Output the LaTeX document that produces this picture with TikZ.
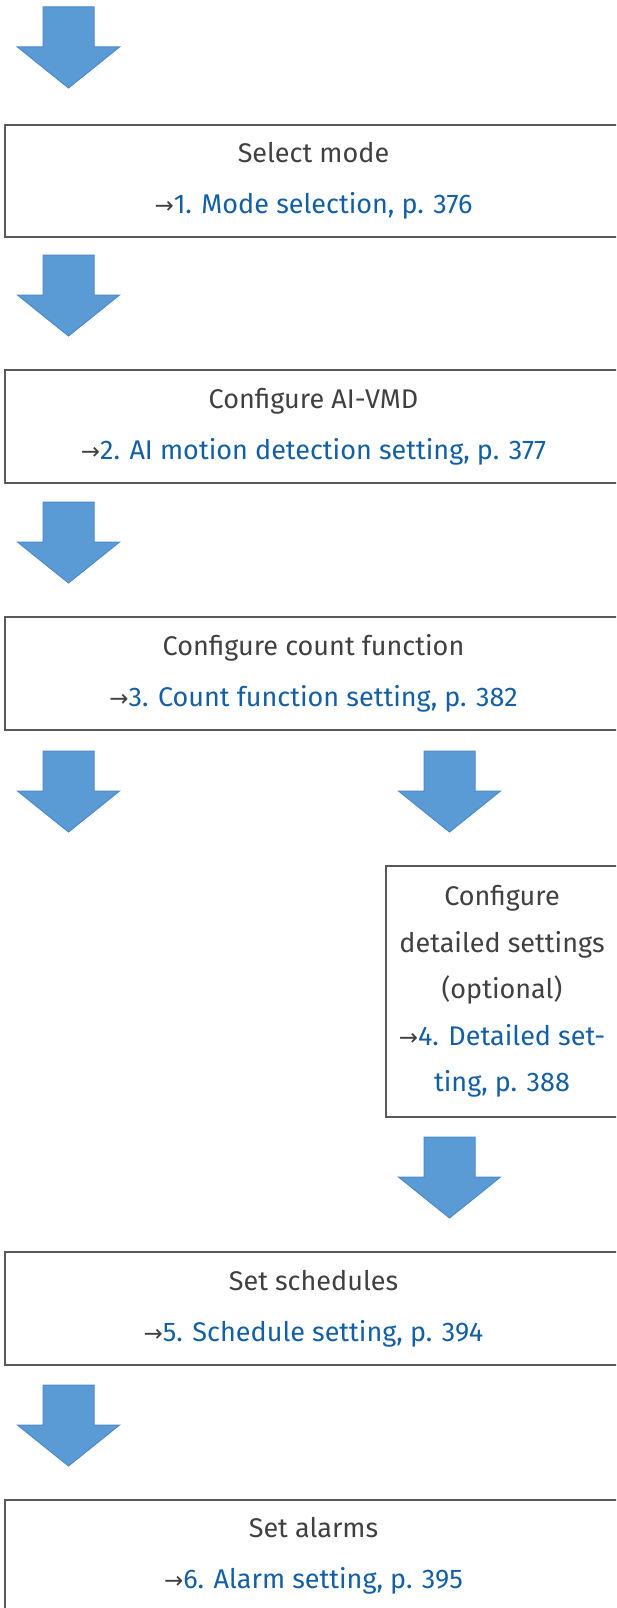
\documentclass[tikz,border=0pt]{standalone}
\usepackage{fontspec}
\setmainfont{Fira Sans}
\newfontfamily\arrfont{DejaVu Sans}
\definecolor{txtgray}{HTML}{404040}
\definecolor{linkblue}{HTML}{135FA5}
\definecolor{boxline}{HTML}{595959}
\definecolor{arrfill}{HTML}{5B9BD5}
\definecolor{arredge}{HTML}{4D8ACB}
\newcommand{\lk}[1]{{\color{txtgray}\arrfont\scalebox{0.85}{→}}\textcolor{linkblue}{#1}}
\newcommand{\blockarr}[2]{%
  \fill[arrfill,draw=arredge,line width=1pt,line join=miter]
    (#1-25.5,#2) -- (#1+25.5,#2) -- (#1+25.5,#2+40) -- (#1+51,#2+40)
    -- (#1,#2+81) -- (#1-51,#2+40) -- (#1-25.5,#2+40) -- cycle;}
\begin{document}
\begin{tikzpicture}[x=1pt,y=-1pt,
  box/.style={draw=boxline,line width=1.5pt,fill=none,align=center,
    text=txtgray,font=\fontsize{27}{51}\selectfont,inner sep=0pt},
  tallbox/.style={box,font=\fontsize{27}{46.6}\selectfont}]
\useasboundingbox (0,0) rectangle (616,1608);
\begin{scope}
\clip (0,0) rectangle (616,1608);
\blockarr{68.5}{7}
\node[box,minimum width=617,minimum height=112] (b1) at (313.5,181)
  {Select mode\\\lk{1. Mode selection, p. 376}};
\blockarr{68.5}{255}
\node[box,minimum width=617,minimum height=113] (b2) at (313.5,426.5)
  {Configure AI-VMD\\\lk{2. AI motion detection setting, p. 377}};
\blockarr{68.5}{502}
\node[box,minimum width=617,minimum height=113] (b3) at (313.5,673.5)
  {Configure count function\\\lk{3. Count function setting, p. 382}};
\blockarr{68.5}{751}
\blockarr{449.5}{751}
\node[tallbox,minimum width=232,minimum height=251] (b4) at (502,991.5)
  {Configure\\detailed settings\\(optional)\\\lk{4. Detailed set-}\\\textcolor{linkblue}{ting, p. 388}};
\blockarr{449.5}{1137}
\node[box,minimum width=617,minimum height=113] (b5) at (313.5,1308.5)
  {Set schedules\\\lk{5. Schedule setting, p. 394}};
\blockarr{68.5}{1385}
\node[box,minimum width=617,minimum height=112] (b6) at (313.5,1556)
  {Set alarms\\\lk{6. Alarm setting, p. 395}};
\end{scope}
\end{tikzpicture}
\end{document}
